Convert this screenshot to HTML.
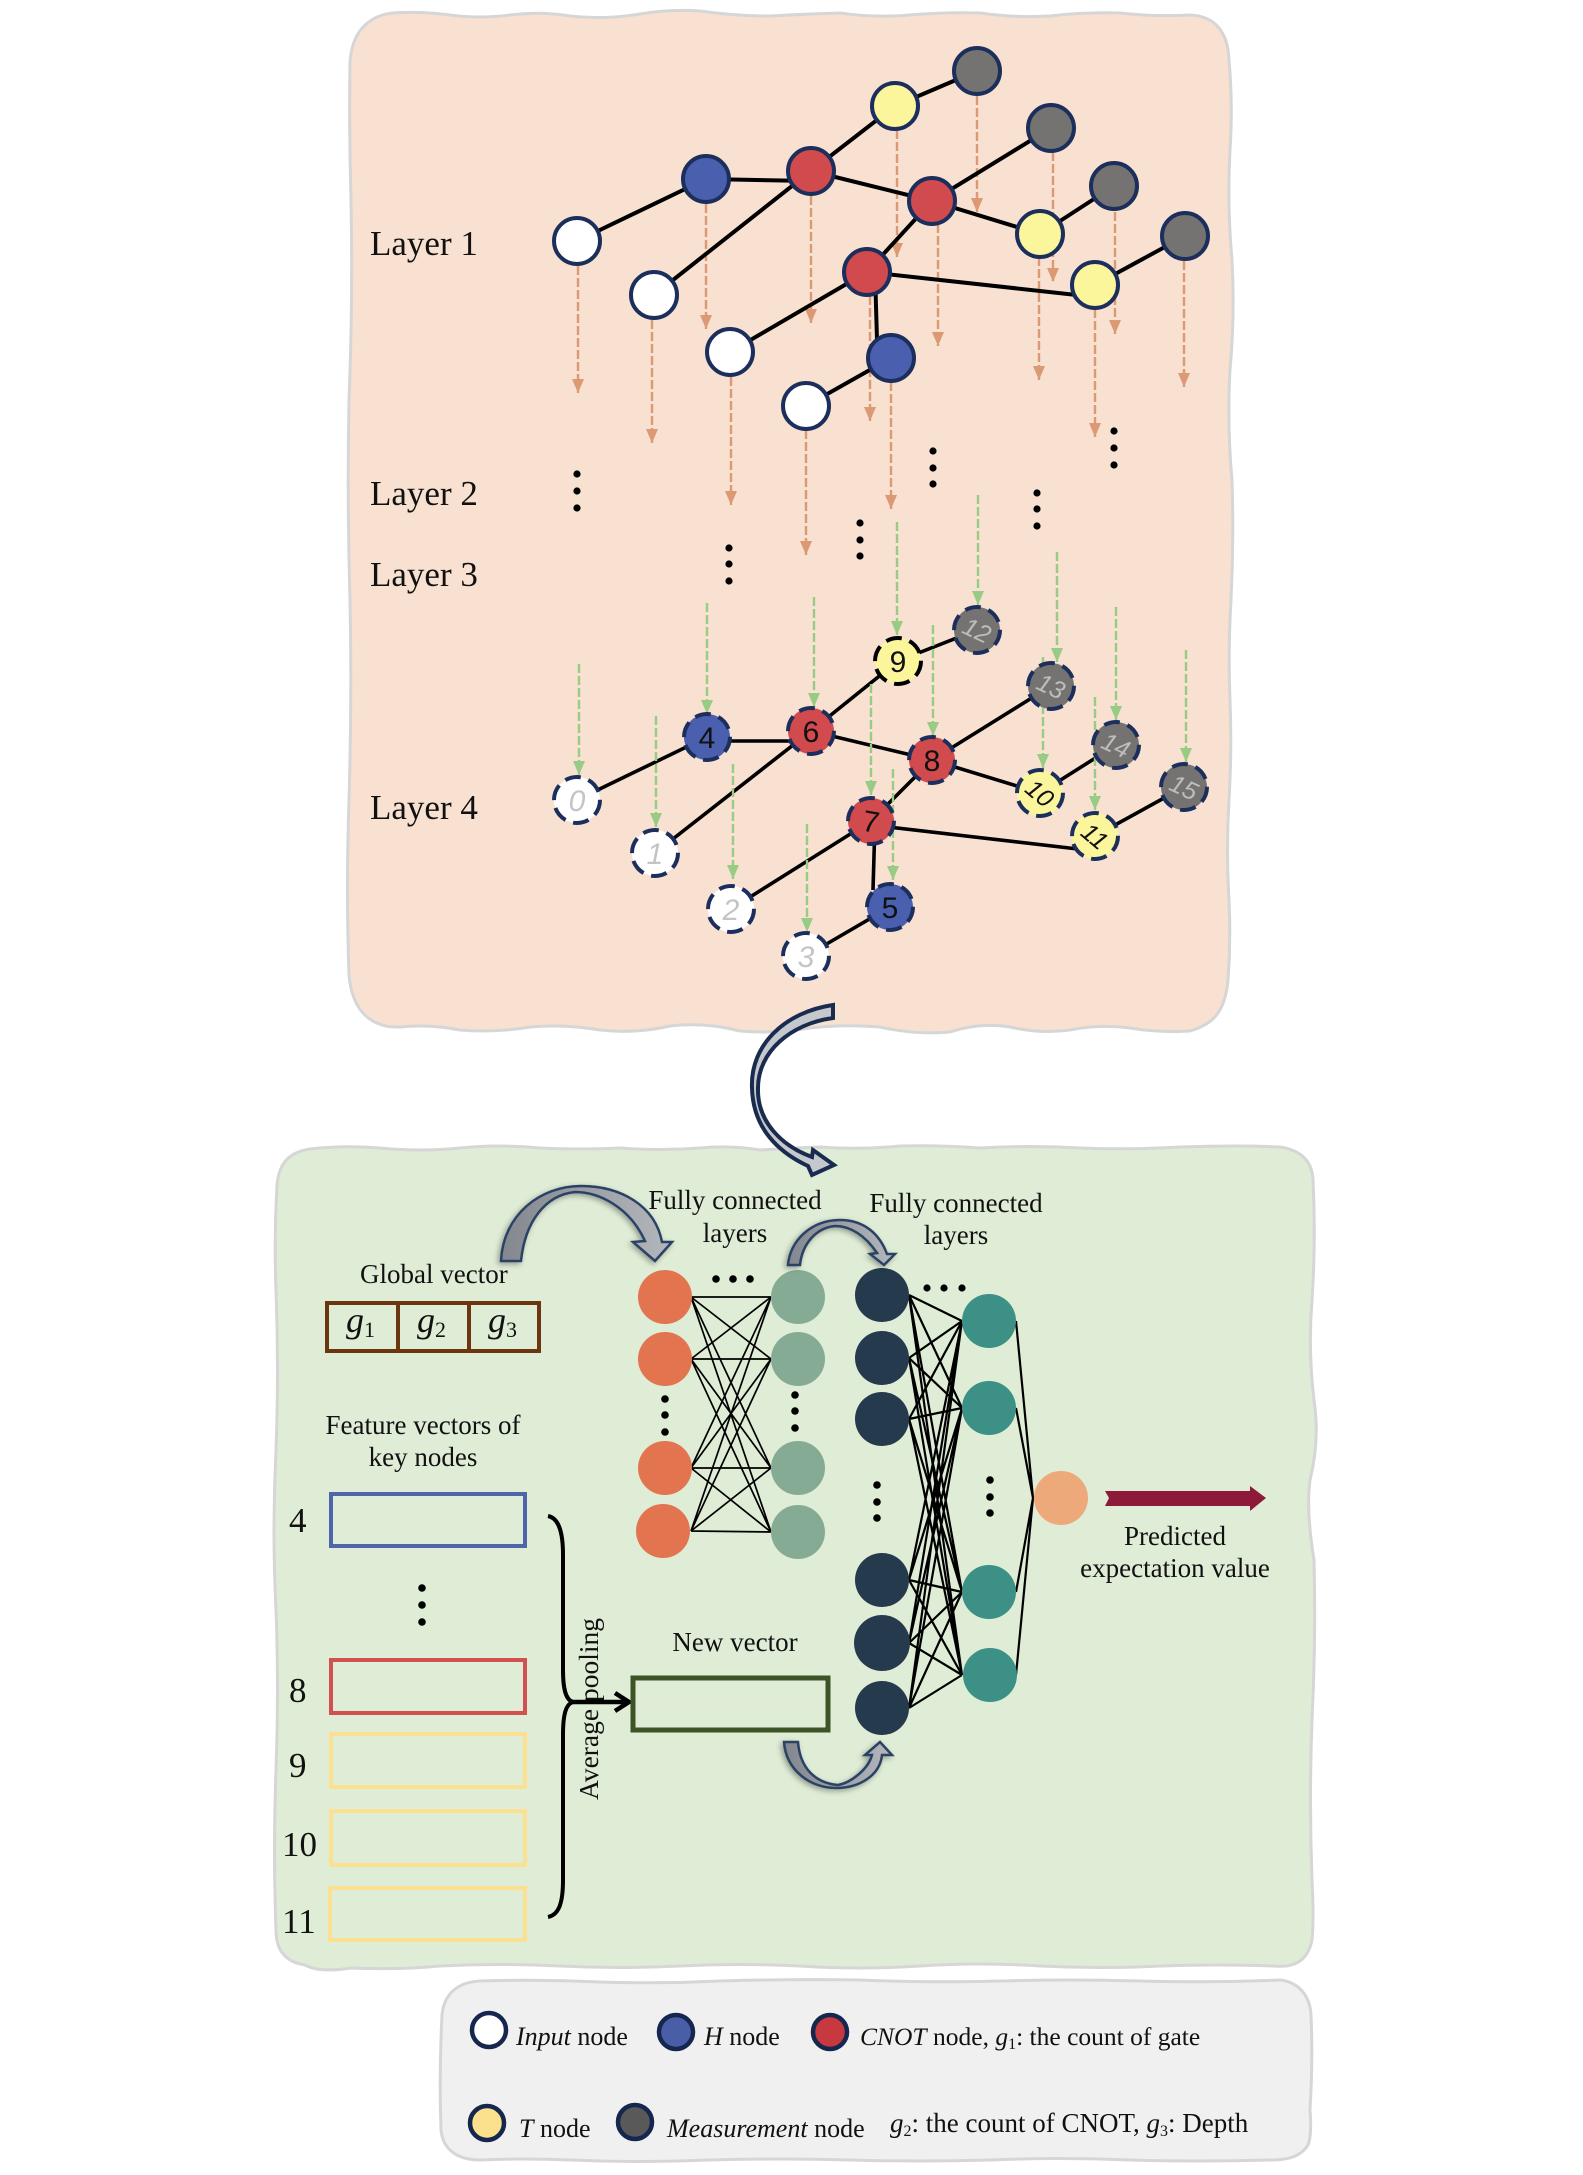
<!DOCTYPE html>
<html><head><meta charset="utf-8"><style>
html,body{margin:0;padding:0;background:#fff}
svg{display:block}
text{font-family:"Liberation Serif",serif;fill:#111}
.t{font-size:27px}
.l{font-size:35px}
.n{font-size:35px}
.k{font-size:26px}
.d{font-family:"Liberation Sans",sans-serif;font-size:30px;text-anchor:middle}
.f{stroke:#000;stroke-width:1.7;fill:none}
.e{stroke:#000;stroke-width:4;fill:none}
.o{stroke:#dc9a74;stroke-width:2.4;stroke-dasharray:9 3;fill:none;marker-end:url(#mo)}
.g{stroke:#98cb84;stroke-width:2.4;stroke-dasharray:9 3;fill:none;marker-end:url(#mg)}
.nd{stroke:#1b2e5c;stroke-width:4}
.dn{stroke:#1b2e5c;stroke-width:4;stroke-dasharray:16 8}
</style></head><body>
<svg width="1583" height="2175" viewBox="0 0 1583 2175" xmlns="http://www.w3.org/2000/svg">
<defs>
<marker id="mo" markerUnits="userSpaceOnUse" markerWidth="14" markerHeight="12" refX="14" refY="6" orient="auto" viewBox="0 0 14 12"><path d="M0,0 L14,6 L0,12 Z" fill="#dc9a74"/></marker>
<marker id="mg" markerUnits="userSpaceOnUse" markerWidth="14" markerHeight="12" refX="14" refY="6" orient="auto" viewBox="0 0 14 12"><path d="M0,0 L14,6 L0,12 Z" fill="#98cb84"/></marker>
<linearGradient id="ag" x1="0" y1="0" x2="1" y2="0"><stop offset="0" stop-color="#83878e"/><stop offset="1" stop-color="#b4b7bc"/></linearGradient>
<filter id="sh" x="-20%" y="-20%" width="140%" height="140%"><feGaussianBlur in="SourceAlpha" stdDeviation="3"/><feOffset dx="-2" dy="2"/><feComponentTransfer><feFuncA type="linear" slope="0.35"/></feComponentTransfer><feMerge><feMergeNode/><feMergeNode in="SourceGraphic"/></feMerge></filter>
</defs>

<!-- panels -->
<path fill="#f8e1d1" stroke="#d6d6d6" stroke-width="3" d="M350,62 C352,32 368,16 392,13 Q420,11 450,15 Q480,19 510,15 Q540,11 570,16 Q605,20 640,14 Q670,9 700,11 Q735,16 770,16 Q805,14 840,13 Q875,18 910,15 Q945,12 980,13 Q1015,18 1050,16 Q1085,12 1120,13 Q1155,17 1190,15 C1215,16 1228,32 1229,60 Q1233,105 1230,150 Q1227,205 1232,260 Q1235,315 1230,370 Q1227,425 1232,480 Q1234,540 1231,600 Q1228,650 1230,700 Q1232,750 1229,800 Q1226,850 1229,900 Q1231,940 1228,980 C1225,1015 1210,1025 1190,1031 Q1160,1033 1130,1028 Q1100,1024 1070,1030 Q1040,1034 1010,1027 Q980,1022 950,1032 Q915,1035 880,1027 Q845,1024 810,1028 Q775,1034 740,1031 Q705,1022 670,1026 Q635,1034 600,1030 Q565,1024 530,1027 Q495,1033 460,1030 Q430,1024 400,1027 C370,1028 352,1010 349,975 Q346,890 349,800 Q352,700 350,600 Q347,500 349,400 Q353,300 351,200 Q349,130 350,62 Z"/>
<path fill="#dfecd6" stroke="#d6d6d6" stroke-width="3" d="M277,1185 C279,1162 290,1152 310,1149 Q345,1145 380,1148 Q420,1152 460,1148 Q500,1144 540,1148 Q580,1150 620,1148 Q660,1151 700,1148 Q730,1145 760,1150 Q790,1148 820,1147 Q860,1150 900,1146 Q940,1145 980,1148 Q1030,1145 1080,1148 Q1130,1150 1180,1147 Q1240,1145 1280,1147 C1300,1150 1312,1160 1313,1180 Q1316,1240 1312,1300 Q1308,1350 1314,1400 Q1320,1440 1310,1480 Q1306,1510 1314,1560 Q1316,1640 1312,1720 Q1309,1800 1312,1880 Q1314,1920 1312,1940 C1308,1960 1295,1968 1275,1966 Q1220,1964 1160,1966 Q1100,1969 1040,1966 Q980,1962 920,1966 Q860,1970 800,1966 Q740,1963 680,1966 Q620,1969 560,1966 Q500,1963 440,1966 Q400,1970 350,1968 Q320,1973 305,1965 C285,1962 276,1950 276,1930 Q273,1850 276,1770 Q279,1690 276,1610 Q272,1530 276,1450 Q279,1370 276,1290 Q274,1240 277,1185 Z"/>
<path fill="#f0f0f0" stroke="#d6d6d6" stroke-width="3" d="M442,2015 C444,1992 460,1982 480,1981 Q540,1979 600,1982 Q660,1984 720,1981 Q790,1979 860,1980 Q930,1983 1000,1981 Q1070,1979 1140,1981 Q1210,1983 1280,1980 C1298,1982 1310,1995 1311,2015 Q1313,2060 1310,2110 Q1312,2135 1308,2145 C1300,2158 1285,2160 1270,2160 Q1200,2162 1130,2160 Q1060,2157 990,2160 Q920,2162 850,2160 Q780,2158 710,2160 Q640,2163 570,2160 Q520,2158 480,2160 C458,2160 443,2150 441,2130 Q439,2075 442,2015 Z"/>

<!-- layer labels -->
<text class="l" x="370" y="255">Layer 1</text>
<text class="l" x="370" y="505">Layer 2</text>
<text class="l" x="370" y="586">Layer 3</text>
<text class="l" x="370" y="819">Layer 4</text>

<!-- layer 1 arrows -->
<path class="o" d="M578,266V393"/><path class="o" d="M652,320V443"/><path class="o" d="M706,204V329"/><path class="o" d="M811,196V323"/><path class="o" d="M897,130V257"/><path class="o" d="M977,96V212"/><path class="o" d="M938,224V346"/><path class="o" d="M1053,152V282"/><path class="o" d="M1039,257V380"/><path class="o" d="M1115,212V334"/><path class="o" d="M1184,261V387"/><path class="o" d="M1095,309V437"/><path class="o" d="M870,296V421"/><path class="o" d="M891,382V509"/><path class="o" d="M731,377V505"/><path class="o" d="M806,430V555"/>

<!-- layer 1 edges -->
<path class="e" d="M577,241L706,179M706,179L811,181M654,295L811,171M811,171L895,106M895,106L977,71M811,171L932,201M932,201L1051,128M932,201L1040,234M1040,234L1114,186M932,201L867,272M867,272L730,352M867,272L1095,297M1095,285L1185,236M875,272L877,340M891,358L806,406"/>
<g class="nd">
<circle cx="977" cy="71" r="23" fill="#757371"/><circle cx="895" cy="106" r="23" fill="#fbf59b"/><circle cx="1051" cy="128" r="23" fill="#757371"/><circle cx="811" cy="171" r="23" fill="#d14a4d"/><circle cx="706" cy="179" r="23" fill="#4a60ae"/><circle cx="932" cy="201" r="23" fill="#d14a4d"/><circle cx="1114" cy="186" r="23" fill="#757371"/><circle cx="1040" cy="234" r="23" fill="#fbf59b"/><circle cx="1185" cy="236" r="23" fill="#757371"/><circle cx="577" cy="241" r="23" fill="#fff"/><circle cx="867" cy="272" r="23" fill="#d14a4d"/><circle cx="1095" cy="285" r="23" fill="#fbf59b"/><circle cx="654" cy="295" r="23" fill="#fff"/><circle cx="730" cy="352" r="23" fill="#fff"/><circle cx="891" cy="358" r="23" fill="#4a60ae"/><circle cx="806" cy="406" r="23" fill="#fff"/>
</g>

<!-- dots -->
<g fill="#000">
<circle cx="577" cy="474" r="3.6"/><circle cx="577" cy="491" r="3.6"/><circle cx="577" cy="508" r="3.6"/>
<circle cx="933" cy="451" r="3.6"/><circle cx="933" cy="468" r="3.6"/><circle cx="933" cy="484" r="3.6"/>
<circle cx="1114" cy="431" r="3.6"/><circle cx="1114" cy="448" r="3.6"/><circle cx="1114" cy="465" r="3.6"/>
<circle cx="1037" cy="493" r="3.6"/><circle cx="1037" cy="509" r="3.6"/><circle cx="1037" cy="526" r="3.6"/>
<circle cx="860" cy="523" r="3.6"/><circle cx="860" cy="540" r="3.6"/><circle cx="860" cy="556" r="3.6"/>
<circle cx="729" cy="548" r="3.6"/><circle cx="729" cy="564" r="3.6"/><circle cx="729" cy="581" r="3.6"/>
</g>

<!-- layer 4 edges -->
<path class="e" d="M577,800L707,737M707,741L811,741M655,853L811,731M811,731L898,661M898,661L977,630M811,731L932,760M932,760L1051,686M932,760L1040,793M1040,793L1116,745M932,760L871,821M871,821L731,909M871,825L1095,851M1095,836L1184,787M875,821L873,890M890,907L806,956" style="stroke-width:3.6"/>
<!-- layer 4 arrows -->
<path class="g" d="M579,664V775"/><path class="g" d="M656,716V827"/><path class="g" d="M733,764V879"/><path class="g" d="M807,824V932"/><path class="g" d="M707,603V714"/><path class="g" d="M893,769V880"/><path class="g" d="M814,597V707"/><path class="g" d="M871,684V795"/><path class="g" d="M933,625V736"/><path class="g" d="M897,522V635"/><path class="g" d="M1043,657V768"/><path class="g" d="M1095,697V810"/><path class="g" d="M978,495V605"/><path class="g" d="M1057,552V662"/><path class="g" d="M1116,607V720"/><path class="g" d="M1186,650V762"/>

<g class="dn">
<circle cx="977" cy="630" r="23" fill="#757371"/><circle cx="898" cy="661" r="23" fill="#fbf59b" style="stroke:#000"/><circle cx="1051" cy="686" r="23" fill="#757371"/><circle cx="811" cy="731" r="23" fill="#d14a4d"/><circle cx="707" cy="737" r="23" fill="#4a60ae"/><circle cx="932" cy="760" r="23" fill="#d14a4d"/><circle cx="1116" cy="745" r="23" fill="#757371"/><circle cx="1040" cy="793" r="23" fill="#fbf59b"/><circle cx="1184" cy="787" r="23" fill="#757371"/><circle cx="577" cy="800" r="23" fill="#fff"/><circle cx="871" cy="821" r="23" fill="#d14a4d"/><circle cx="1095" cy="836" r="23" fill="#fbf59b"/><circle cx="655" cy="853" r="23" fill="#fff"/><circle cx="731" cy="909" r="23" fill="#fff"/><circle cx="890" cy="907" r="23" fill="#4a60ae"/><circle cx="806" cy="956" r="23" fill="#fff"/>
</g>
<g>
<text class="d" font-style="italic" style="fill:#c4c4c4" x="577" y="811">0</text>
<text class="d" font-style="italic" style="fill:#c4c4c4" x="655" y="864">1</text>
<text class="d" font-style="italic" style="fill:#c4c4c4" x="731" y="920">2</text>
<text class="d" font-style="italic" style="fill:#c4c4c4" x="806" y="967">3</text>
<text class="d" x="707" y="748">4</text>
<text class="d" x="890" y="918">5</text>
<text class="d" x="811" y="742">6</text>
<text class="d" x="871" y="832" transform="rotate(10 871 821)">7</text>
<text class="d" x="932" y="771">8</text>
<text class="d" x="898" y="672">9</text>
<text class="d" font-style="italic" style="font-size:25px" x="1040" y="802" transform="rotate(40 1040 793)">10</text>
<text class="d" font-style="italic" style="font-size:25px" x="1095" y="845" transform="rotate(40 1095 836)">11</text>
<text class="d" font-style="italic" style="font-size:25px;fill:#bdbdbd" x="977" y="639" transform="rotate(25 977 630)">12</text>
<text class="d" font-style="italic" style="font-size:25px;fill:#bdbdbd" x="1051" y="695" transform="rotate(25 1051 686)">13</text>
<text class="d" font-style="italic" style="font-size:25px;fill:#bdbdbd" x="1116" y="754" transform="rotate(25 1116 745)">14</text>
<text class="d" font-style="italic" style="font-size:25px;fill:#bdbdbd" x="1184" y="796" transform="rotate(25 1184 787)">15</text>
</g>

<!-- big curved arrow -->
<path d="M833,1005 C785,1012 750,1045 752,1088 C753,1128 778,1152 808,1166 L812,1175 L834,1165 L813,1150 L812,1157 C782,1146 757,1122 758,1088 C758,1052 790,1024 833,1018 Z" fill="#c5c8cc" stroke="#1a2b50" stroke-width="4" stroke-linejoin="miter"/>

<!-- green panel texts -->
<text class="t" x="360" y="1283">Global vector</text>
<text class="t" x="423" y="1434" text-anchor="middle">Feature vectors of</text>
<text class="t" x="423" y="1466" text-anchor="middle">key nodes</text>
<text class="t" x="735" y="1209" text-anchor="middle">Fully connected</text>
<text class="t" x="735" y="1242" text-anchor="middle">layers</text>
<text class="t" x="956" y="1212" text-anchor="middle">Fully connected</text>
<text class="t" x="956" y="1244" text-anchor="middle">layers</text>
<text class="t" x="735" y="1651" text-anchor="middle">New vector</text>
<text class="t" x="1175" y="1545" text-anchor="middle">Predicted</text>
<text class="t" x="1175" y="1577" text-anchor="middle">expectation value</text>
<text class="t" style="font-size:27.5px" transform="translate(598,1709) rotate(-90)" text-anchor="middle">Average pooling</text>

<!-- g boxes -->
<g fill="none" stroke="#6b3510" stroke-width="4">
<rect x="327" y="1303" width="71" height="48"/><rect x="398" y="1303" width="71" height="48"/><rect x="469" y="1303" width="70" height="48"/>
</g>
<text x="346" y="1332" font-size="36" font-style="italic">g<tspan font-size="22" font-style="normal" dy="5">1</tspan></text>
<text x="417" y="1332" font-size="36" font-style="italic">g<tspan font-size="22" font-style="normal" dy="5">2</tspan></text>
<text x="488" y="1332" font-size="36" font-style="italic">g<tspan font-size="22" font-style="normal" dy="5">3</tspan></text>

<!-- feature rects -->
<g fill="none" stroke-width="4">
<rect x="331" y="1494" width="194" height="52" stroke="#4f64aa"/>
<rect x="331" y="1660" width="194" height="53" stroke="#d25050"/>
<rect x="331" y="1734" width="194" height="53" stroke="#fbe092"/>
<rect x="331" y="1811" width="194" height="54" stroke="#fbe092"/>
<rect x="330" y="1888" width="195" height="52" stroke="#fbe092"/>
</g>
<text class="n" x="289" y="1532">4</text>
<text class="n" x="289" y="1702">8</text>
<text class="n" x="289" y="1777">9</text>
<text class="n" x="282" y="1856">10</text>
<text class="n" x="282" y="1933">11</text>
<g fill="#000"><circle cx="422" cy="1588" r="3.8"/><circle cx="422" cy="1605" r="3.8"/><circle cx="422" cy="1622" r="3.8"/></g>

<!-- brace and arrow -->
<path d="M548,1516 C558,1518 563,1530 563,1555 L563,1670 C563,1690 566,1700 573,1702 C566,1704 563,1714 563,1735 L563,1880 C563,1905 558,1915 548,1917" fill="none" stroke="#000" stroke-width="4"/>
<path d="M572,1702H627M615,1693L629,1702L615,1711" fill="none" stroke="#000" stroke-width="4.5"/>
<rect x="633" y="1678" width="195" height="52" fill="none" stroke="#3c5426" stroke-width="5"/>

<!-- FC 1 lines -->
<path class="f" d="M691,1297L771,1297M691,1297L771,1359M691,1297L771,1468M691,1297L771,1532M691,1359L771,1297M691,1359L771,1359M691,1359L771,1468M691,1359L771,1532M691,1468L771,1297M691,1468L771,1359M691,1468L771,1468M691,1468L771,1532M691,1531L771,1297M691,1531L771,1359M691,1531L771,1468M691,1531L771,1532"/>
<g fill="#e27550"><circle cx="665" cy="1297" r="27"/><circle cx="665" cy="1359" r="27"/><circle cx="665" cy="1468" r="27"/><circle cx="663" cy="1531" r="27"/></g>
<g fill="#86ab94"><circle cx="798" cy="1297" r="27"/><circle cx="798" cy="1359" r="27"/><circle cx="798" cy="1468" r="27"/><circle cx="798" cy="1532" r="27"/></g>
<g fill="#000">
<circle cx="716" cy="1279" r="3.8"/><circle cx="733" cy="1279" r="3.8"/><circle cx="750" cy="1279" r="3.8"/>
<circle cx="665" cy="1399" r="3.8"/><circle cx="665" cy="1415" r="3.8"/><circle cx="665" cy="1432" r="3.8"/>
<circle cx="795" cy="1395" r="3.8"/><circle cx="795" cy="1411" r="3.8"/><circle cx="795" cy="1428" r="3.8"/>
</g>

<!-- FC 2 lines -->
<path class="f" d="M909,1295L962,1321M909,1295L962,1408M909,1295L962,1592M909,1295L962,1675M909,1358L962,1321M909,1358L962,1408M909,1358L962,1592M909,1358L962,1675M909,1419L962,1321M909,1419L962,1408M909,1419L962,1592M909,1419L962,1675M909,1580L962,1321M909,1580L962,1408M909,1580L962,1592M909,1580L962,1675M909,1643L962,1321M909,1643L962,1408M909,1643L962,1592M909,1643L962,1675M909,1708L962,1321M909,1708L962,1408M909,1708L962,1592M909,1708L962,1675M1016,1321L1033,1498M1016,1408L1033,1498M1016,1592L1033,1498M1016,1675L1033,1498" style="stroke-width:2.2"/>
<g fill="#253a4c"><circle cx="882" cy="1295" r="27"/><circle cx="882" cy="1358" r="27"/><circle cx="882" cy="1419" r="27"/><circle cx="882" cy="1580" r="27"/><circle cx="882" cy="1643" r="28"/><circle cx="882" cy="1708" r="27"/></g>
<g fill="#3c9085"><circle cx="989" cy="1321" r="27"/><circle cx="989" cy="1408" r="27"/><circle cx="989" cy="1592" r="27"/><circle cx="990" cy="1675" r="27"/></g>
<circle cx="1061" cy="1498" r="27" fill="#eea97a"/>
<g fill="#000">
<circle cx="927" cy="1288" r="3.6"/><circle cx="944" cy="1288" r="3.6"/><circle cx="962" cy="1288" r="3.6"/>
<circle cx="877" cy="1485" r="3.8"/><circle cx="877" cy="1502" r="3.8"/><circle cx="877" cy="1518" r="3.8"/>
<circle cx="990" cy="1480" r="3.8"/><circle cx="990" cy="1497" r="3.8"/><circle cx="990" cy="1513" r="3.8"/>
</g>
<path d="M1105,1491 H1250 V1486 L1266,1498 L1250,1511 V1506 H1105 L1109,1498 Z" fill="#8c1a38"/>

<!-- curved grey arrows -->
<g stroke="#2c4266" stroke-width="2.5" fill="url(#ag)" filter="url(#sh)">
<path d="M501,1261 C503,1215 540,1186 581,1186 C620,1186 655,1205 662,1242 L672,1242 L655,1261 L633,1242 L645,1241 C630,1208 600,1192 575,1192 C545,1195 525,1222 521,1261 Z"/>
<path d="M788,1265 C790,1240 812,1220 840,1220 C865,1220 880,1235 887,1254 L895,1254 L884,1265 L870,1254 L877,1253 C865,1235 850,1226 835,1226 C815,1228 802,1245 800,1265 Z"/>
<path d="M784,1742 C786,1770 810,1788 836,1788 C860,1788 880,1775 882,1755 L892,1755 L880,1742 L865,1755 L872,1755 C868,1770 850,1783 838,1785 C815,1783 800,1768 798,1742 Z"/>
</g>

<!-- legend -->
<g stroke="#16274f" stroke-width="4.5">
<circle cx="489" cy="2030" r="17" fill="#fff"/><circle cx="676" cy="2032" r="17" fill="#4a5ea8"/><circle cx="830" cy="2032" r="17" fill="#c8393f"/>
<circle cx="487" cy="2123" r="17" fill="#fbe08e"/><circle cx="635" cy="2122" r="17" fill="#595959"/>
</g>
<text class="k" x="516" y="2045"><tspan font-style="italic">Input</tspan> node</text>
<text class="k" x="704" y="2045"><tspan font-style="italic">H</tspan> node</text>
<text class="k" style="font-size:25.5px" x="860" y="2045"><tspan font-style="italic">CNOT</tspan> node, <tspan font-style="italic">g</tspan><tspan font-size="16" dy="4">1</tspan><tspan dy="-4">: the count of gate</tspan></text>
<text class="k" x="519" y="2137"><tspan font-style="italic">T</tspan> node</text>
<text class="k" x="667" y="2137"><tspan font-style="italic">Measurement</tspan> node</text>
<text class="k" style="font-size:27px" x="890" y="2132"><tspan font-style="italic">g</tspan><tspan font-size="16" dy="4">2</tspan><tspan dy="-4">: the count of CNOT, </tspan><tspan font-style="italic">g</tspan><tspan font-size="16" dy="4">3</tspan><tspan dy="-4">: Depth</tspan></text>
</svg>
</body></html>
